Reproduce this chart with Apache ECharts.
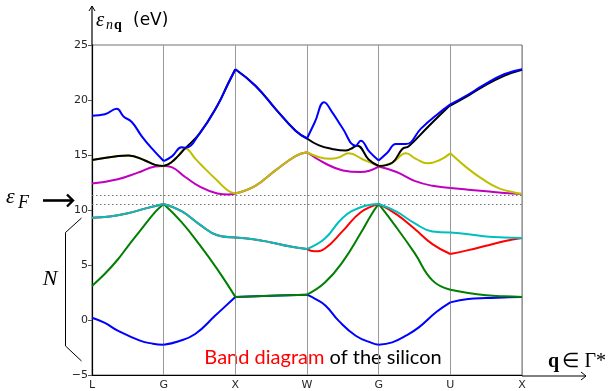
<!DOCTYPE html>
<html>
<head>
<meta charset="utf-8">
<script src="https://cdn.jsdelivr.net/npm/echarts@6/dist/echarts.min.js"></script>
<style>
  html, body { margin: 0; padding: 0; background: #ffffff; }
  #chart { width: 611px; height: 391px; }
</style>
</head>
<body>
<div id="chart"></div>
<script>
// high-symmetry points along the path, one per x unit
const pointNames = ['L', 'G', 'X', 'W', 'G', 'U', 'X'];
const yTicks = [-5, 0, 5, 10, 15, 20, 25];
const gapLines = [11.35, 10.55];

// bands, [k position, energy eV]
const band1 = [[0, 0.2], [0.18, -0.27], [0.36, -0.97], [0.67, -1.88], [0.85, -2.15], [1, -2.25],
  [1.2, -1.95], [1.44, -1.27], [1.72, 0.4], [2, 2.1], [2.5, 2.2], [3, 2.3],
  [3.12, 1.9], [3.26, 1.3], [3.44, -0.06], [3.68, -1.43], [3.91, -2.1], [4, -2.25],
  [4.19, -2.03], [4.38, -1.43], [4.56, -0.67], [4.8, 0.7], [5, 1.6],
  [5.25, 1.9], [5.5, 2.0], [5.75, 2.05], [6, 2.1]];
const band2 = [[0, 3.1], [0.18, 4.2], [0.36, 5.5], [0.5, 6.7], [0.67, 8.1], [0.88, 9.8], [1, 10.55],
  [1.25, 8.9], [1.5, 6.85], [1.75, 4.6], [2, 2.1], [2.5, 2.2], [3, 2.3],
  [3.25, 3.4], [3.5, 5.3], [3.75, 7.9], [3.9, 9.6], [4, 10.55],
  [4.25, 8.4], [4.5, 6.1], [4.75, 3.6], [5, 2.75],
  [5.25, 2.45], [5.5, 2.25], [5.75, 2.15], [6, 2.1]];
const band3 = [[0, 9.3], [0.25, 9.4], [0.5, 9.7], [0.75, 10.15], [1, 10.55],
  [1.25, 9.9], [1.5, 8.7], [1.75, 7.7], [2, 7.5], [2.25, 7.35], [2.5, 7.05], [2.75, 6.7], [3, 6.45],
  [3.25, 7.4], [3.5, 9.3], [3.75, 10.25], [4, 10.55],
  [4.25, 9.85], [4.5, 8.8], [4.75, 8.05], [5, 7.95],
  [5.25, 7.8], [5.5, 7.6], [5.75, 7.5], [6, 7.45]];
const band4 = [[0, 9.3], [0.25, 9.4], [0.5, 9.7], [0.75, 10.15], [1, 10.55],
  [1.25, 9.9], [1.5, 8.7], [1.75, 7.7], [2, 7.5], [2.25, 7.35], [2.5, 7.05], [2.75, 6.7], [3, 6.45],
  [3.1, 6.25], [3.25, 6.5], [3.5, 8.1], [3.75, 9.8], [4, 10.55],
  [4.25, 9.6], [4.5, 8.3], [4.75, 6.9], [5, 6.0],
  [5.25, 6.35], [5.5, 6.75], [5.75, 7.15], [6, 7.45]];
const band5 = [[0, 12.4], [0.36, 12.8], [0.64, 13.4], [0.88, 13.95], [1, 14.0],
  [1.11, 13.9], [1.3, 13.0], [1.51, 12.1], [1.75, 11.5], [1.9, 11.4], [2, 11.5],
  [2.28, 12.2], [2.56, 13.6], [2.84, 14.9], [3, 15.25],
  [3.25, 14.25], [3.5, 13.6], [3.75, 13.45], [4, 13.95],
  [4.25, 13.45], [4.5, 12.65], [4.75, 12.2], [5, 12.0],
  [5.25, 11.85], [5.5, 11.7], [5.75, 11.55], [6, 11.45]];
const band6 = [[0, 14.55], [0.37, 14.9], [0.51, 14.95], [0.74, 14.5], [0.88, 14.1], [1, 14.0],
  [1.1, 14.3], [1.2, 14.9], [1.3, 15.6], [1.45, 14.6], [1.6, 13.6], [1.75, 12.65], [1.9, 11.75], [2, 11.5],
  [2.28, 12.2], [2.56, 13.6], [2.84, 14.9], [3, 15.25],
  [3.17, 14.8], [3.33, 14.65], [3.45, 14.8], [3.58, 15.15], [3.79, 14.57], [4, 14.0],
  [4.19, 14.3], [4.38, 15.15], [4.52, 14.65], [4.68, 14.24], [4.84, 14.5], [5, 15.15],
  [5.22, 13.9], [5.45, 12.8], [5.68, 11.97], [5.92, 11.55], [6, 11.45]];
const band7 = [[0, 14.55], [0.37, 14.9], [0.51, 14.95], [0.74, 14.5], [0.88, 14.1], [1, 14.0],
  [1.1, 14.3], [1.2, 14.9], [1.3, 15.6], [1.5, 16.95], [1.75, 19.5], [1.9, 21.5], [2, 22.8],
  [2.28, 21.3], [2.56, 19.2], [2.84, 17.2], [3, 16.5],
  [3.16, 15.9], [3.35, 15.55], [3.54, 15.4], [3.61, 15.55], [3.7, 15.85], [3.86, 14.6], [4, 14.0],
  [4.19, 14.3], [4.33, 15.55], [4.42, 15.8], [4.68, 17.5], [4.96, 19.3], [5, 19.5],
  [5.25, 20.4], [5.45, 21.2], [5.75, 22.2], [6, 22.75]];
const band8 = [[0, 18.57], [0.18, 18.7], [0.345, 19.2], [0.44, 18.5], [0.555, 18.0], [0.695, 16.7], [0.835, 15.6], [1, 14.45],
  [1.12, 14.9], [1.25, 15.7], [1.3, 15.65], [1.5, 16.95], [1.75, 19.5], [1.9, 21.5], [2, 22.8],
  [2.28, 21.3], [2.56, 19.2], [2.84, 17.2], [3, 16.5],
  [3.11, 18.0], [3.24, 19.8], [3.35, 18.9], [3.49, 17.5], [3.68, 15.85], [3.75, 16.3], [3.87, 15.3], [4, 14.5],
  [4.12, 15.2], [4.24, 16.0], [4.38, 16.0], [4.59, 17.4], [4.8, 18.6], [5, 19.6],
  [5.25, 20.5], [5.45, 21.3], [5.75, 22.35], [6, 22.8]];

const W = 611, H = 391;
const grid = { left: 92, right: 89, top: 45, bottom: 15 };
const xL = grid.left, xR = W - grid.right, yT = grid.top, yB = H - grid.bottom;

const chart = echarts.init(document.getElementById('chart'));

// cut a band at every high-symmetry point so the kinks there stay sharp
function splitAtPoints(pts) {
  const segs = [];
  let cur = [pts[0]];
  for (let i = 1; i < pts.length; i++) {
    cur.push(pts[i]);
    if (Number.isInteger(pts[i][0]) && i < pts.length - 1) {
      segs.push(cur);
      cur = [pts[i]];
    }
  }
  segs.push(cur);
  return segs;
}

// drawing order: later ones on top
const bands = [
  { data: band1, color: '#0000ff' },
  { data: band2, color: '#008000' },
  { data: band4, color: '#ff0000' },
  { data: band3, color: '#00bfbf' },
  { data: band5, color: '#bf00bf' },
  { data: band6, color: '#bfbf00' },
  { data: band7, color: '#000000' },
  { data: band8, color: '#0000ff' }
];

const series = [];
bands.forEach((b, i) => {
  splitAtPoints(b.data).forEach(seg => {
    series.push({
      type: 'line',
      data: seg,
      smooth: 0.45,
      symbol: 'none',
      silent: true,
      z: 2 + i,
      lineStyle: { color: b.color, width: 2 }
    });
  });
});

// dotted gap lines
series.push({
  type: 'line',
  data: [],
  silent: true,
  z: 1,
  markLine: {
    silent: true,
    symbol: 'none',
    label: { show: false },
    lineStyle: { color: '#777777', width: 1, type: [1.5, 2.5] },
    data: gapLines.map(v => [{ coord: [0, v] }, { coord: [pointNames.length - 1, v] }])
  }
});

const serif = 'Liberation Serif';

const option = {
  animation: false,
  backgroundColor: '#ffffff',
  grid: {
    left: grid.left, right: grid.right, top: grid.top, bottom: grid.bottom,
    show: true, borderColor: '#707070', borderWidth: 1
  },
  xAxis: {
    type: 'value',
    min: 0,
    max: pointNames.length - 1,
    interval: 1,
    axisLine: { show: true, onZero: false, lineStyle: { color: '#000000', width: 1.2 } },
    axisTick: { show: false },
    axisLabel: {
      color: '#262626', fontSize: 11, fontFamily: 'DejaVu Sans', margin: 5,
      formatter: v => pointNames[v] || ''
    },
    splitLine: { show: true, lineStyle: { color: '#999999', width: 1 } }
  },
  yAxis: [{
    type: 'value',
    min: yTicks[0],
    max: yTicks[yTicks.length - 1],
    interval: yTicks[1] - yTicks[0],
    axisLine: { show: true, onZero: false, lineStyle: { color: '#000000', width: 1.2 } },
    axisTick: { show: false },
    axisLabel: {
      color: '#262626', fontSize: 11, fontFamily: 'DejaVu Sans', margin: 4,
      formatter: v => String(v).replace('-', '\u2212')
    },
    splitLine: { show: false }
  }, {
    type: 'value',
    position: 'right',
    min: yTicks[0],
    max: yTicks[yTicks.length - 1],
    interval: yTicks[1] - yTicks[0],
    axisLine: { show: false },
    axisTick: { show: true, inside: true, length: 4, lineStyle: { color: '#555555' } },
    axisLabel: { show: false },
    splitLine: { show: false }
  }],
  series: series,
  graphic: [
    // axis arrows
    { type: 'polyline', shape: { points: [[xL, yT], [xL, 6]] }, style: { stroke: '#000', lineWidth: 1.2, fill: null } },
    { type: 'polyline', shape: { points: [[xL - 3, 11], [xL, 6], [xL + 3, 11]] }, style: { stroke: '#000', lineWidth: 1, fill: null } },
    { type: 'polyline', shape: { points: [[xR, yB], [586, yB]] }, style: { stroke: '#000', lineWidth: 1.2, fill: null } },
    { type: 'polyline', shape: { points: [[581, yB - 4], [586, yB], [581, yB + 4]] }, style: { stroke: '#000', lineWidth: 1, fill: null } },
    // y axis title
    { type: 'text', style: { text: '\u03b5', x: 96, y: 20, fontFamily: serif, fontStyle: 'italic', fontSize: 21, fill: '#000', verticalAlign: 'middle' } },
    { type: 'text', style: { text: 'n', x: 106, y: 25, fontFamily: serif, fontStyle: 'italic', fontSize: 14, fill: '#000', verticalAlign: 'middle' } },
    { type: 'text', style: { text: 'q', x: 114, y: 25, fontFamily: serif, fontWeight: 'bold', fontSize: 14, fill: '#000', verticalAlign: 'middle' } },
    { type: 'text', style: { text: '(eV)', x: 133, y: 21, fontFamily: 'DejaVu Sans', fontSize: 17, fill: '#000', verticalAlign: 'middle' } },
    // Fermi level marker
    { type: 'text', style: { text: '\u03b5', x: 6, y: 197, fontFamily: serif, fontStyle: 'italic', fontSize: 22, fill: '#000', verticalAlign: 'middle' } },
    { type: 'text', style: { text: 'F', x: 18, y: 203, fontFamily: serif, fontStyle: 'italic', fontSize: 18, fill: '#000', verticalAlign: 'middle' } },
    { type: 'polyline', shape: { points: [[43, 200.5], [72, 200.5]] }, style: { stroke: '#000', lineWidth: 2.6, fill: null } },
    { type: 'polyline', shape: { points: [[67, 194.5], [73, 200.5], [67, 206.5]] }, style: { stroke: '#000', lineWidth: 2.4, fill: null } },
    // occupied bands brace
    { type: 'polyline', shape: { points: [[81.5, 218], [65.5, 232.5], [65.5, 346], [81.5, 361]] }, style: { stroke: '#000', lineWidth: 1, fill: null } },
    { type: 'text', style: { text: 'N', x: 50, y: 279, fontFamily: serif, fontStyle: 'italic', fontSize: 22, fill: '#000', align: 'center', verticalAlign: 'middle' } },
    // x axis title
    {
      type: 'text',
      style: {
        text: '{q|q} {t|\u2208 \u0393*}', x: 548, y: 362, verticalAlign: 'middle',
        rich: {
          q: { fontFamily: serif, fontWeight: 'bold', fontSize: 20, fill: '#000' },
          t: { fontFamily: serif, fontSize: 20, fill: '#000' }
        }
      }
    },
    // caption
    {
      type: 'text',
      style: {
        text: '{r|Band diagram}{k| of the silicon}', x: 323, y: 358, align: 'center', verticalAlign: 'middle',
        rich: {
          r: { fontFamily: 'Lato', fontSize: 20, fill: '#ff0000' },
          k: { fontFamily: 'Lato', fontSize: 20, fill: '#000000' }
        }
      }
    }
  ]
};

chart.setOption(option);
</script>
</body>
</html>
